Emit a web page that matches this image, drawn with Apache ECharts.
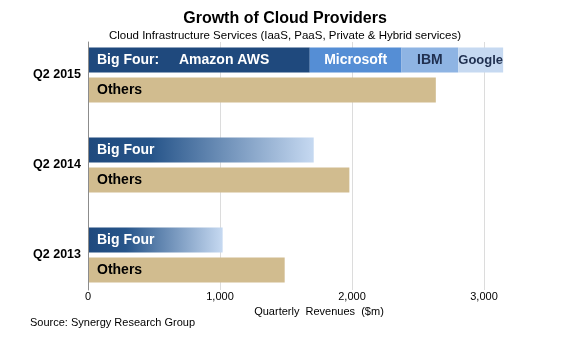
<!DOCTYPE html>
<html>
<head>
<meta charset="utf-8">
<script src="https://cdn.jsdelivr.net/npm/echarts@6/dist/echarts.min.js"></script>
<style>
  html, body { margin: 0; padding: 0; background: #fff; }
  #main { width: 570px; height: 344px; }
</style>
</head>
<body>
<div id="main"></div>
<script>
// data ($m per quarter)
const quarters = ['Q2 2015', 'Q2 2014', 'Q2 2013'];
const amazon = [1680, '-', '-'];
const microsoft = [695, '-', '-'];
const ibm = [430, '-', '-'];
const google = [340, '-', '-'];
const bigFour = ['-', 1710, 1020];
const others = [2635, 1980, 1490];
const xTicks = [0, 1000, 2000, 3000];

const font = 'Liberation Sans, Arial, sans-serif';
const myChart = echarts.init(document.getElementById('main'));

function lbl(color, pos) {
    return {
        show: true,
        position: pos || 'inside',
        distance: 9,
        color: color,
        fontFamily: font,
        fontWeight: 'bold',
        fontSize: 14
    };
}

const option = {
    animation: false,
    textStyle: { fontFamily: font },
    title: {
        text: 'Growth of Cloud Providers',
        subtext: 'Cloud Infrastructure Services (IaaS, PaaS, Private & Hybrid services)',
        left: 'center',
        top: 6,
        itemGap: 3,
        textStyle: { fontFamily: font, fontSize: 16, fontWeight: 'bold', color: '#000' },
        subtextStyle: { fontFamily: font, fontSize: 11.5, color: '#000' }
    },
    graphic: [{
        type: 'text',
        left: 30,
        top: 317,
        style: { text: 'Source: Synergy Research Group', font: '11px ' + font, fill: '#000' }
    }],
    // grid 0 holds the bars, grid 1 only draws the gridlines and the vertical axis line
    grid: [
        { left: 88, right: 20, top: 30, height: 270 },
        { left: 88, right: 20, top: 42, height: 248 }
    ],
    xAxis: [
        {
            type: 'value',
            gridIndex: 0,
            min: 0,
            max: 3500,
            interval: 1000,
            name: 'Quarterly  Revenues  ($m)',
            nameLocation: 'middle',
            nameGap: 5,
            nameTextStyle: { fontFamily: font, fontSize: 11, color: '#000' },
            axisLine: { show: false },
            axisTick: { show: false },
            axisLabel: {
                margin: -9,
                fontFamily: font,
                fontSize: 11,
                color: '#000',
                showMaxLabel: false,
                formatter: function (v) { return xTicks.indexOf(v) >= 0 ? v.toLocaleString('en-US') : ''; }
            },
            splitLine: { show: false }
        },
        {
            type: 'value',
            gridIndex: 1,
            min: 0,
            max: 3500,
            interval: 1000,
            axisLine: { show: false },
            axisTick: { show: false },
            axisLabel: { show: false },
            splitLine: { show: true, showMinLine: false, showMaxLine: false, lineStyle: { color: '#dcdcdc' } }
        }
    ],
    yAxis: [
        {
            type: 'category',
            gridIndex: 0,
            data: quarters,
            inverse: true,
            axisTick: { show: false },
            axisLine: { show: false },
            axisLabel: { margin: 7, fontFamily: font, fontSize: 12.5, fontWeight: 'bold', color: '#000' }
        },
        {
            type: 'category',
            gridIndex: 1,
            data: quarters,
            inverse: true,
            z: 5,
            axisTick: { show: false },
            axisLabel: { show: false },
            axisLine: { show: true, lineStyle: { color: '#8c8c8c' } }
        }
    ],
    series: [
        {
            name: 'Amazon AWS', type: 'bar', stack: 'big', barWidth: 25, barGap: '20%',
            itemStyle: { color: '#1f497d' },
            label: Object.assign(lbl('#fff', 'insideLeft'), {
                formatter: '{a|Big Four:}{b|Amazon AWS}',
                rich: {
                    a: { width: 82, color: '#fff', fontFamily: font, fontWeight: 'bold', fontSize: 14 },
                    b: { color: '#fff', fontFamily: font, fontWeight: 'bold', fontSize: 14 }
                }
            }),
            data: amazon
        },
        {
            name: 'Microsoft', type: 'bar', stack: 'big',
            itemStyle: { color: '#558ed5' },
            label: Object.assign(lbl('#fff'), { formatter: 'Microsoft' }),
            data: microsoft
        },
        {
            name: 'IBM', type: 'bar', stack: 'big',
            itemStyle: { color: '#8eb4e3' },
            label: Object.assign(lbl('#1f2f4f'), { formatter: 'IBM' }),
            data: ibm
        },
        {
            name: 'Google', type: 'bar', stack: 'big',
            itemStyle: { color: '#c6d9f1' },
            label: Object.assign(lbl('#1f2f4f'), { formatter: 'Google', fontSize: 13 }),
            data: google
        },
        {
            name: 'Big Four', type: 'bar', stack: 'big',
            itemStyle: {
                color: new echarts.graphic.LinearGradient(0, 0, 1, 0, [
                    { offset: 0, color: '#1f497d' },
                    { offset: 0.28, color: '#27558a' },
                    { offset: 1, color: '#c6d9f1' }
                ])
            },
            label: Object.assign(lbl('#fff', 'insideLeft'), { formatter: 'Big Four' }),
            data: bigFour
        },
        {
            name: 'Others', type: 'bar', barWidth: 25,
            itemStyle: { color: '#d1bc8f' },
            label: Object.assign(lbl('#000', 'insideLeft'), { formatter: 'Others' }),
            data: others
        }
    ]
};

myChart.setOption(option);
</script>
</body>
</html>
